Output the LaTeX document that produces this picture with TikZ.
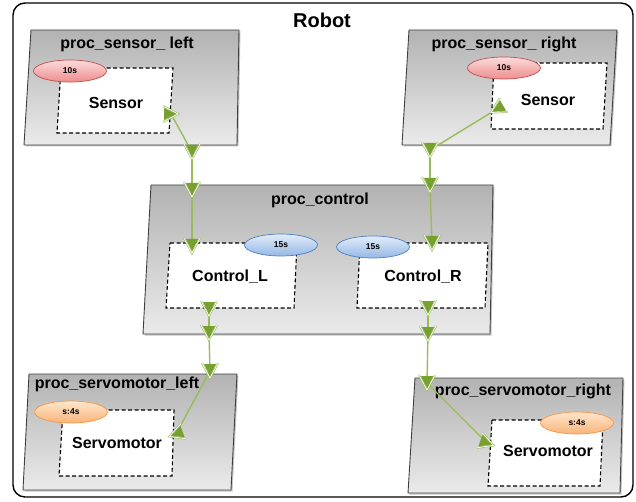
\documentclass[tikz,border=0pt]{standalone}
\usepackage{fontspec}
\setmainfont{Liberation Sans}
\usetikzlibrary{shapes.geometric,shadows}
\definecolor{lineg}{HTML}{9BBB59}
\definecolor{portg}{HTML}{76A030}
\definecolor{redb}{HTML}{C0504D}
\definecolor{redt}{HTML}{FCDCDC}
\definecolor{redbot}{HTML}{EE8C8C}
\definecolor{blueb}{HTML}{4F81BD}
\definecolor{bluet}{HTML}{E2ECFA}
\definecolor{bluebot}{HTML}{95B8E6}
\definecolor{orab}{HTML}{F79646}
\definecolor{orat}{HTML}{FEE6CC}
\definecolor{orabot}{HTML}{F9B47A}
\tikzset{
  procbox/.style={draw=black!75, line width=0.9pt, top color=black!30, bottom color=black!8,
    drop shadow={shadow xshift=1.5pt, shadow yshift=-1.5pt, opacity=0.45}},
  innerbox/.style={draw=black, fill=white, line width=1.1pt, dash pattern=on 4pt off 2.5pt},
  titletext/.style={font=\fontsize{16}{19}\selectfont\bfseries, inner sep=0pt},
  bodytext/.style={font=\fontsize{16}{19}\selectfont\bfseries, inner sep=0pt},
  tag/.style={ellipse, minimum width=73pt, minimum height=22pt, inner sep=0pt,
    font=\fontsize{8.5}{10}\selectfont\bfseries, line width=0.7pt},
  redtag/.style={tag, draw=redb, top color=redt, bottom color=redbot},
  bluetag/.style={tag, draw=blueb, top color=bluet, bottom color=bluebot},
  oratag/.style={tag, draw=orab, top color=orat, bottom color=orabot},
  conn/.style={draw=lineg, line width=1.4pt},
  port/.pic={
    \draw[draw=lineg, line width=0.6pt, double=white, double distance=0.7pt, line join=miter]
      (-8,-8) -- (7,0) -- (-8,8);
    \fill[portg] (-7,-6) -- (5,0) -- (-7,6) -- cycle;
  }
}
\begin{document}
\begin{tikzpicture}[x=1pt,y=-1pt]
\useasboundingbox (0,0) rectangle (636,502);
% outer frame
\draw[line width=1.4pt, rounded corners=12pt] (13,3) rectangle (633,497);
\node[font=\fontsize{20}{24}\selectfont\bfseries, inner sep=0pt] (robot) at (322,20) {Robot};

% process boxes
\path[procbox] (31,30) -- (239,30) -- (237,145) -- (24,145) -- cycle;
\path[procbox] (409,30) -- (617,30) -- (610,145) -- (402,145) -- cycle;
\path[procbox] (151,185) -- (493,185) -- (490,334) -- (143,334) -- cycle;
\path[procbox] (29,374) -- (237,374) -- (231,490) -- (23,490) -- cycle;
\path[procbox] (415,378) -- (623,378) -- (620,493) -- (408,493) -- cycle;

\node[titletext] (tSL) at (127,44) {proc\_sensor\_ left};
\node[titletext] (tSR) at (504,44) {proc\_sensor\_ right};
\node[titletext] (tC) at (320,200) {proc\_control};
\node[titletext] (tML) at (117,384) {proc\_servomotor\_left};
\node[titletext] (tMR) at (523,391) {proc\_servomotor\_right};

% inner boxes
\path[innerbox] (61,68) -- (173,68) -- (169,133) -- (57,133) -- cycle;
\path[innerbox] (494,63) -- (607,63) -- (603,129) -- (491,129) -- cycle;
\path[innerbox] (170,243) -- (297,243) -- (294,308) -- (166,308) -- cycle;
\path[innerbox] (360,243) -- (488,243) -- (485,308) -- (357,308) -- cycle;
\path[innerbox] (63,410) -- (174,410) -- (172,476) -- (59,476) -- cycle;
\path[innerbox] (492,420) -- (603,420) -- (600,486) -- (488,486) -- cycle;

\node[bodytext] (sensL) at (116,103) {Sensor};
\node[bodytext] (sensR) at (548,100) {Sensor};
\node[bodytext] (ctlL) at (230,277) {Control\_L};
\node[bodytext] (ctlR) at (423,277) {Control\_R};
\node[bodytext] (servL) at (117,443) {Servomotor};
\node[bodytext] (servR) at (548,451) {Servomotor};

% ports
\coordinate (sL) at (171,114);
\coordinate (sLo) at (192,152);
\coordinate (cLi) at (192,190);
\coordinate (CLt) at (192,246);
\coordinate (CLb) at (209,309);
\coordinate (cLo) at (209,333);
\coordinate (mLi) at (210,371);
\coordinate (mL) at (176,434);
\coordinate (sR) at (497,109);
\coordinate (sRo) at (430,150);
\coordinate (cRi) at (430,185);
\coordinate (CRt) at (432,243);
\coordinate (CRb) at (428,308);
\coordinate (cRo) at (428,334);
\coordinate (mRi) at (427,383);
\coordinate (mR) at (487,443);

% connectors
\draw[conn] (sL) -- (sLo);
\draw[conn] (sLo) -- (cLi);
\draw[conn] (cLi) -- (CLt);
\draw[conn] (CLb) -- (cLo);
\draw[conn] (cLo) -- (mLi);
\draw[conn] (mLi) -- (mL);
\draw[conn] (sR) -- (sRo);
\draw[conn] (sRo) -- (cRi);
\draw[conn] (cRi) -- (CRt);
\draw[conn] (CRb) -- (cRo);
\draw[conn] (cRo) -- (mRi);
\draw[conn] (mRi) -- (mR);

\pic[rotate=0] at (sL) {port};
\pic[rotate=-90] at (sLo) {port};
\pic[rotate=-90] at (cLi) {port};
\pic[rotate=-90] at (CLt) {port};
\pic[rotate=-90] at (CLb) {port};
\pic[rotate=-90] at (cLo) {port};
\pic[rotate=-90] at (mLi) {port};
\pic[rotate=-160] at (mL) {port};
\pic[rotate=-150] at (sR) {port};
\pic[rotate=-90] at (sRo) {port};
\pic[rotate=-90] at (cRi) {port};
\pic[rotate=-90] at (CRt) {port};
\pic[rotate=-90] at (CRb) {port};
\pic[rotate=-90] at (cRo) {port};
\pic[rotate=-90] at (mRi) {port};
\pic[rotate=-20] at (mR) {port};

% tags
\node[redtag] (eSL) at (70,71) {10s};
\node[redtag] (eSR) at (504,68) {10s};
\node[bluetag] (eCL) at (281,245) {15s};
\node[bluetag] (eCR) at (373,247) {15s};
\node[oratag] (eML) at (71,412) {s:4s};
\node[oratag] (eMR) at (577,423) {s:4s};
\end{tikzpicture}
\end{document}
